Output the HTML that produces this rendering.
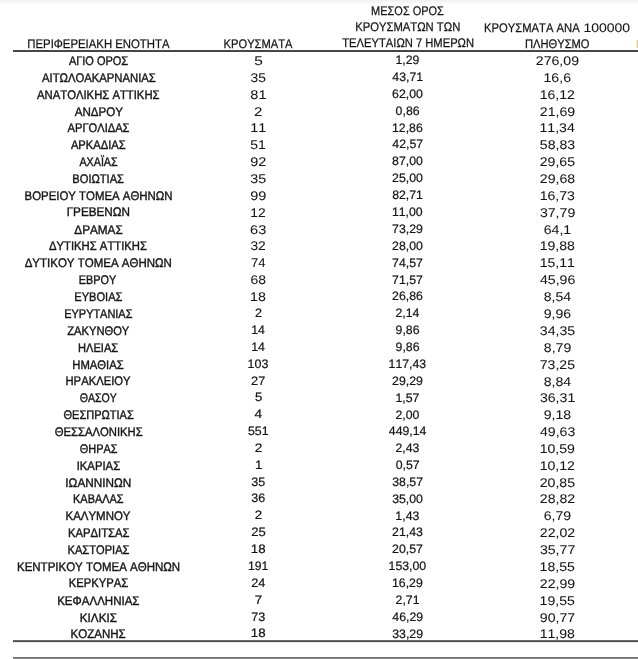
<!DOCTYPE html>
<html><head><meta charset="utf-8"><style>
html,body{margin:0;padding:0;background:#fff;}
body{width:638px;height:659px;overflow:hidden;position:relative;}
.top{position:absolute;left:0;top:0;width:638px;height:7px;background:linear-gradient(#f1f1f1 0px,#f4f4f4 1.5px,#f9f9f9 2.5px,#fcfcfc 3.5px,#fefefe 5px,#fff 7px);}
.ln{position:absolute;height:1px;}
.mk{position:absolute;left:637px;top:40px;width:1px;height:8px;background:#dccb9c;}
.mk2{position:absolute;left:636px;top:40px;width:1px;height:8px;background:#f6efd6;}
svg{position:absolute;left:0;top:0;will-change:transform;}
text{font-family:"Liberation Sans",sans-serif;fill:#151515;stroke:#151515;stroke-width:0.4px;font-kerning:none;text-rendering:geometricPrecision;}
text.d{stroke-width:0.22px;}
text.d2{stroke-width:0.06px;}
text.h{stroke-width:0.25px;}
</style></head><body>
<div class="top"></div>
<div class="ln" style="left:13px;top:50px;width:625px;background:#464646"></div>
<div class="ln" style="left:13px;top:51px;width:625px;background:#464646"></div>
<div class="ln" style="left:13px;top:640px;width:625px;background:#686868"></div>
<div class="ln" style="left:13px;top:641px;width:625px;background:#4c4c4c"></div>
<div class="ln" style="left:13px;top:642px;width:625px;background:#ececec"></div>
<div class="ln" style="left:13px;top:657px;width:625px;background:#707070"></div>
<div class="ln" style="left:13px;top:658px;width:625px;background:#8a8a8a"></div>
<div class="mk"></div><div class="mk2"></div>
<svg width="638" height="659" viewBox="0 0 638 659">
<text class="h" transform="translate(27.29,47.60) scale(0.9087,1)" font-size="12.5">ΠΕΡΙΦΕΡΕΙΑΚΗ ΕΝΟΤΗΤΑ</text>
<text class="h" transform="translate(223.61,47.60) scale(0.8918,1)" font-size="12.5">ΚΡΟΥΣΜΑΤΑ</text>
<text class="h" transform="translate(371.12,14.75) scale(0.8773,1)" font-size="12.5">ΜΕΣΟΣ ΟΡΟΣ</text>
<text class="h" transform="translate(355.20,30.80) scale(0.9002,1)" font-size="12.5">ΚΡΟΥΣΜΑΤΩΝ ΤΩΝ</text>
<text class="h" transform="translate(342.28,46.50) scale(0.8952,1)" font-size="12.5">ΤΕΛΕΥΤΑΙΩΝ 7 ΗΜΕΡΩΝ</text>
<text class="h" transform="translate(484.10,31.60) scale(0.8987,1)" font-size="12.5">ΚΡΟΥΣΜΑΤΑ ΑΝΑ</text>
<text class="d2" transform="translate(583.42,31.60) scale(1.1195,1)" font-size="12.5">100000</text>
<text class="h" transform="translate(524.91,47.60) scale(0.8933,1)" font-size="12.5">ΠΛΗΘΥΣΜΟ</text>
<text transform="translate(68.90,64.69) scale(0.8791,1)" font-size="12.5">ΑΓΙΟ ΟΡΟΣ</text>
<text class="d2" transform="translate(254.18,64.84) scale(1.2235,1)" font-size="12.6">5</text>
<text class="d" transform="translate(395.43,64.39) scale(1.0000,1)" font-size="12.3">1,29</text>
<text class="d2" transform="translate(535.84,64.89) scale(1.1200,1)" font-size="12.6">276,09</text>
<text transform="translate(42.10,81.58) scale(0.9010,1)" font-size="12.5">ΑΙΤΩΛΟΑΚΑΡΝΑΝΙΑΣ</text>
<text class="d2" transform="translate(250.58,81.73) scale(1.0989,1)" font-size="12.6">35</text>
<text class="d" transform="translate(392.30,81.28) scale(1.0000,1)" font-size="12.3">43,71</text>
<text class="d2" transform="translate(543.53,81.78) scale(1.1200,1)" font-size="12.6">16,6</text>
<text transform="translate(37.05,98.68) scale(0.9031,1)" font-size="12.5">ΑΝΑΤΟΛΙΚΗΣ ΑΤΤΙΚΗΣ</text>
<text class="d2" transform="translate(250.27,98.83) scale(1.1597,1)" font-size="12.6">81</text>
<text class="d" transform="translate(392.05,98.38) scale(1.0000,1)" font-size="12.3">62,00</text>
<text class="d2" transform="translate(539.65,98.88) scale(1.1200,1)" font-size="12.6">16,12</text>
<text transform="translate(74.70,115.57) scale(0.9272,1)" font-size="12.5">ΑΝΔΡΟΥ</text>
<text class="d2" transform="translate(254.05,115.72) scale(1.1905,1)" font-size="12.6">2</text>
<text class="d" transform="translate(395.62,115.27) scale(1.0000,1)" font-size="12.3">0,86</text>
<text class="d2" transform="translate(539.79,115.77) scale(1.1200,1)" font-size="12.6">21,69</text>
<text transform="translate(67.60,131.90) scale(0.8897,1)" font-size="12.5">ΑΡΓΟΛΙΔΑΣ</text>
<text class="d2" transform="translate(250.29,132.05) scale(1.1429,1)" font-size="12.6">11</text>
<text class="d" transform="translate(391.99,131.60) scale(1.0000,1)" font-size="12.3">12,86</text>
<text class="d2" transform="translate(539.51,132.10) scale(1.1200,1)" font-size="12.6">11,34</text>
<text transform="translate(70.90,148.65) scale(0.8955,1)" font-size="12.5">ΑΡΚΑΔΙΑΣ</text>
<text class="d2" transform="translate(250.24,148.80) scale(1.1096,1)" font-size="12.6">51</text>
<text class="d" transform="translate(392.30,148.35) scale(1.0000,1)" font-size="12.3">42,57</text>
<text class="d2" transform="translate(539.86,148.85) scale(1.1200,1)" font-size="12.6">58,83</text>
<text transform="translate(79.40,165.61) scale(0.8589,1)" font-size="12.5">ΑΧΑΪΑΣ</text>
<text class="d2" transform="translate(250.22,165.76) scale(1.1481,1)" font-size="12.6">92</text>
<text class="d" transform="translate(392.11,165.31) scale(1.0000,1)" font-size="12.3">87,00</text>
<text class="d2" transform="translate(539.72,165.81) scale(1.1200,1)" font-size="12.6">29,65</text>
<text transform="translate(72.31,182.78) scale(0.8901,1)" font-size="12.5">ΒΟΙΩΤΙΑΣ</text>
<text class="d2" transform="translate(250.37,182.93) scale(1.1371,1)" font-size="12.6">35</text>
<text class="d" transform="translate(392.05,182.48) scale(1.0000,1)" font-size="12.3">25,00</text>
<text class="d2" transform="translate(539.79,182.98) scale(1.1200,1)" font-size="12.6">29,68</text>
<text transform="translate(24.59,199.74) scale(0.9123,1)" font-size="12.5">ΒΟΡΕΙΟΥ ΤΟΜΕΑ ΑΘΗΝΩΝ</text>
<text class="d2" transform="translate(250.22,199.89) scale(1.1481,1)" font-size="12.6">99</text>
<text class="d" transform="translate(392.18,199.44) scale(1.0000,1)" font-size="12.3">82,71</text>
<text class="d2" transform="translate(539.65,199.94) scale(1.1200,1)" font-size="12.6">16,73</text>
<text transform="translate(66.66,216.42) scale(0.9371,1)" font-size="12.5">ΓΡΕΒΕΝΩΝ</text>
<text class="d2" transform="translate(250.33,216.57) scale(1.1032,1)" font-size="12.6">12</text>
<text class="d" transform="translate(391.93,216.12) scale(1.0000,1)" font-size="12.3">11,00</text>
<text class="d2" transform="translate(539.93,216.62) scale(1.1200,1)" font-size="12.6">37,79</text>
<text transform="translate(74.35,233.66) scale(0.9379,1)" font-size="12.5">ΔΡΑΜΑΣ</text>
<text class="d2" transform="translate(250.07,233.81) scale(1.1594,1)" font-size="12.6">63</text>
<text class="d" transform="translate(392.11,233.36) scale(1.0000,1)" font-size="12.3">73,29</text>
<text class="d2" transform="translate(543.74,233.86) scale(1.1200,1)" font-size="12.6">64,1</text>
<text transform="translate(48.96,249.85) scale(0.9030,1)" font-size="12.5">ΔΥΤΙΚΗΣ ΑΤΤΙΚΗΣ</text>
<text class="d2" transform="translate(250.38,250.00) scale(1.0989,1)" font-size="12.6">32</text>
<text class="d" transform="translate(392.05,249.55) scale(1.0000,1)" font-size="12.3">28,00</text>
<text class="d2" transform="translate(539.65,250.05) scale(1.1200,1)" font-size="12.6">19,88</text>
<text transform="translate(24.66,266.81) scale(0.9197,1)" font-size="12.5">ΔΥΤΙΚΟΥ ΤΟΜΕΑ ΑΘΗΝΩΝ</text>
<text class="d2" transform="translate(251.05,266.96) scale(1.0379,1)" font-size="12.6">74</text>
<text class="d" transform="translate(392.11,266.51) scale(1.0000,1)" font-size="12.3">74,57</text>
<text class="d2" transform="translate(539.65,267.01) scale(1.1200,1)" font-size="12.6">15,11</text>
<text transform="translate(78.83,283.84) scale(0.8669,1)" font-size="12.5">ΕΒΡΟΥ</text>
<text class="d2" transform="translate(250.40,283.99) scale(1.1049,1)" font-size="12.6">68</text>
<text class="d" transform="translate(392.11,283.54) scale(1.0000,1)" font-size="12.3">71,57</text>
<text class="d2" transform="translate(540.00,284.04) scale(1.1200,1)" font-size="12.6">45,96</text>
<text transform="translate(74.31,300.66) scale(0.8870,1)" font-size="12.5">ΕΥΒΟΙΑΣ</text>
<text class="d2" transform="translate(250.11,300.81) scale(1.1270,1)" font-size="12.6">18</text>
<text class="d" transform="translate(392.11,300.36) scale(1.0000,1)" font-size="12.3">26,86</text>
<text class="d2" transform="translate(543.67,300.86) scale(1.1200,1)" font-size="12.6">8,54</text>
<text transform="translate(64.22,317.69) scale(0.8758,1)" font-size="12.5">ΕΥΡΥΤΑΝΙΑΣ</text>
<text class="d" transform="translate(254.97,317.09) scale(1.0335,1)" font-size="12.2">2</text>
<text class="d" transform="translate(395.43,317.39) scale(1.0000,1)" font-size="12.3">2,14</text>
<text class="d2" transform="translate(543.74,317.89) scale(1.1200,1)" font-size="12.6">9,96</text>
<text transform="translate(67.27,334.73) scale(0.8929,1)" font-size="12.5">ΖΑΚΥΝΘΟΥ</text>
<text class="d" transform="translate(251.14,334.13) scale(1.0125,1)" font-size="12.2">14</text>
<text class="d" transform="translate(395.56,334.43) scale(1.0000,1)" font-size="12.3">9,86</text>
<text class="d2" transform="translate(539.86,334.93) scale(1.1200,1)" font-size="12.6">34,35</text>
<text transform="translate(78.01,351.69) scale(0.8866,1)" font-size="12.5">ΗΛΕΙΑΣ</text>
<text class="d" transform="translate(251.14,351.09) scale(1.0125,1)" font-size="12.2">14</text>
<text class="d" transform="translate(395.56,351.39) scale(1.0000,1)" font-size="12.3">9,86</text>
<text class="d2" transform="translate(543.81,351.89) scale(1.1200,1)" font-size="12.6">8,79</text>
<text transform="translate(72.30,368.65) scale(0.9007,1)" font-size="12.5">ΗΜΑΘΙΑΣ</text>
<text class="d" transform="translate(247.62,368.05) scale(1.0246,1)" font-size="12.2">103</text>
<text class="d" transform="translate(388.55,368.35) scale(1.0000,1)" font-size="12.3">117,43</text>
<text class="d2" transform="translate(539.72,368.85) scale(1.1200,1)" font-size="12.6">73,25</text>
<text transform="translate(65.50,385.33) scale(0.9000,1)" font-size="12.5">ΗΡΑΚΛΕΙΟΥ</text>
<text class="d" transform="translate(251.06,384.73) scale(1.0447,1)" font-size="12.2">27</text>
<text class="d" transform="translate(392.11,385.03) scale(1.0000,1)" font-size="12.3">29,29</text>
<text class="d2" transform="translate(543.67,385.53) scale(1.1200,1)" font-size="12.6">8,84</text>
<text transform="translate(79.78,402.01) scale(0.8441,1)" font-size="12.5">ΘΑΣΟΥ</text>
<text class="d" transform="translate(254.88,401.41) scale(1.0758,1)" font-size="12.2">5</text>
<text class="d" transform="translate(395.43,401.71) scale(1.0000,1)" font-size="12.3">1,57</text>
<text class="d2" transform="translate(539.93,402.21) scale(1.1200,1)" font-size="12.6">36,31</text>
<text transform="translate(63.46,418.83) scale(0.8825,1)" font-size="12.5">ΘΕΣΠΡΩΤΙΑΣ</text>
<text class="d" transform="translate(254.43,418.23) scale(1.1250,1)" font-size="12.2">4</text>
<text class="d" transform="translate(395.50,418.53) scale(1.0000,1)" font-size="12.3">2,00</text>
<text class="d2" transform="translate(543.74,419.03) scale(1.1200,1)" font-size="12.6">9,18</text>
<text transform="translate(54.65,435.79) scale(0.9035,1)" font-size="12.5">ΘΕΣΣΑΛΟΝΙΚΗΣ</text>
<text class="d" transform="translate(248.01,435.19) scale(1.0116,1)" font-size="12.2">551</text>
<text class="d" transform="translate(388.79,435.49) scale(1.0000,1)" font-size="12.3">449,14</text>
<text class="d2" transform="translate(540.00,435.99) scale(1.1200,1)" font-size="12.6">49,63</text>
<text transform="translate(79.76,452.61) scale(0.8734,1)" font-size="12.5">ΘΗΡΑΣ</text>
<text class="d" transform="translate(254.72,452.01) scale(1.1226,1)" font-size="12.2">2</text>
<text class="d" transform="translate(395.50,452.31) scale(1.0000,1)" font-size="12.3">2,43</text>
<text class="d2" transform="translate(539.65,452.81) scale(1.1200,1)" font-size="12.6">10,59</text>
<text transform="translate(76.68,469.71) scale(0.9054,1)" font-size="12.5">ΙΚΑΡΙΑΣ</text>
<text class="d" transform="translate(254.98,469.11) scale(1.0805,1)" font-size="12.2">1</text>
<text class="d" transform="translate(395.68,469.41) scale(1.0000,1)" font-size="12.3">0,57</text>
<text class="d2" transform="translate(539.65,469.91) scale(1.1200,1)" font-size="12.6">10,12</text>
<text transform="translate(65.34,486.67) scale(0.9397,1)" font-size="12.5">ΙΩΑΝΝΙΝΩΝ</text>
<text class="d" transform="translate(251.32,486.07) scale(1.0246,1)" font-size="12.2">35</text>
<text class="d" transform="translate(392.24,486.37) scale(1.0000,1)" font-size="12.3">38,57</text>
<text class="d2" transform="translate(539.72,486.87) scale(1.1200,1)" font-size="12.6">20,85</text>
<text transform="translate(73.02,502.93) scale(0.8763,1)" font-size="12.5">ΚΑΒΑΛΑΣ</text>
<text class="d" transform="translate(251.32,502.33) scale(1.0246,1)" font-size="12.2">36</text>
<text class="d" transform="translate(392.17,502.63) scale(1.0000,1)" font-size="12.3">35,00</text>
<text class="d2" transform="translate(539.79,503.13) scale(1.1200,1)" font-size="12.6">28,82</text>
<text transform="translate(65.48,519.89) scale(0.9178,1)" font-size="12.5">ΚΑΛΥΜΝΟΥ</text>
<text class="d" transform="translate(254.84,519.29) scale(1.0870,1)" font-size="12.2">2</text>
<text class="d" transform="translate(395.37,519.59) scale(1.0000,1)" font-size="12.3">1,43</text>
<text class="d2" transform="translate(543.74,520.09) scale(1.1200,1)" font-size="12.6">6,79</text>
<text transform="translate(68.00,536.57) scale(0.9002,1)" font-size="12.5">ΚΑΡΔΙΤΣΑΣ</text>
<text class="d" transform="translate(251.15,535.97) scale(1.0688,1)" font-size="12.2">25</text>
<text class="d" transform="translate(392.11,536.27) scale(1.0000,1)" font-size="12.3">21,43</text>
<text class="d2" transform="translate(539.79,536.77) scale(1.1200,1)" font-size="12.6">22,02</text>
<text transform="translate(67.51,553.60) scale(0.8894,1)" font-size="12.5">ΚΑΣΤΟΡΙΑΣ</text>
<text class="d" transform="translate(250.87,553.00) scale(1.0902,1)" font-size="12.2">18</text>
<text class="d" transform="translate(392.11,553.30) scale(1.0000,1)" font-size="12.3">20,57</text>
<text class="d2" transform="translate(539.93,553.80) scale(1.1200,1)" font-size="12.6">35,77</text>
<text transform="translate(16.98,570.77) scale(0.9197,1)" font-size="12.5">ΚΕΝΤΡΙΚΟΥ ΤΟΜΕΑ ΑΘΗΝΩΝ</text>
<text class="d" transform="translate(248.05,570.17) scale(0.9995,1)" font-size="12.2">191</text>
<text class="d" transform="translate(388.55,570.47) scale(1.0000,1)" font-size="12.3">153,00</text>
<text class="d2" transform="translate(539.58,570.97) scale(1.1200,1)" font-size="12.6">18,55</text>
<text transform="translate(68.80,587.45) scale(0.8990,1)" font-size="12.5">ΚΕΡΚΥΡΑΣ</text>
<text class="d" transform="translate(251.16,586.85) scale(1.0482,1)" font-size="12.2">24</text>
<text class="d" transform="translate(391.99,587.15) scale(1.0000,1)" font-size="12.3">16,29</text>
<text class="d2" transform="translate(539.79,587.65) scale(1.1200,1)" font-size="12.6">22,99</text>
<text transform="translate(57.18,604.69) scale(0.9218,1)" font-size="12.5">ΚΕΦΑΛΛΗΝΙΑΣ</text>
<text class="d" transform="translate(254.84,604.09) scale(1.0870,1)" font-size="12.2">7</text>
<text class="d" transform="translate(395.56,604.39) scale(1.0000,1)" font-size="12.3">2,71</text>
<text class="d2" transform="translate(539.58,604.89) scale(1.1200,1)" font-size="12.6">19,55</text>
<text transform="translate(79.76,621.51) scale(0.9386,1)" font-size="12.5">ΚΙΛΚΙΣ</text>
<text class="d" transform="translate(251.17,620.91) scale(1.0366,1)" font-size="12.2">73</text>
<text class="d" transform="translate(392.30,621.21) scale(1.0000,1)" font-size="12.3">46,29</text>
<text class="d2" transform="translate(539.86,621.71) scale(1.1200,1)" font-size="12.6">90,77</text>
<text transform="translate(70.48,638.05) scale(0.9233,1)" font-size="12.5">ΚΟΖΑΝΗΣ</text>
<text class="d" transform="translate(250.87,637.45) scale(1.0902,1)" font-size="12.2">18</text>
<text class="d" transform="translate(392.24,637.75) scale(1.0000,1)" font-size="12.3">33,29</text>
<text class="d2" transform="translate(539.65,638.25) scale(1.1200,1)" font-size="12.6">11,98</text>
</svg>
</body></html>
